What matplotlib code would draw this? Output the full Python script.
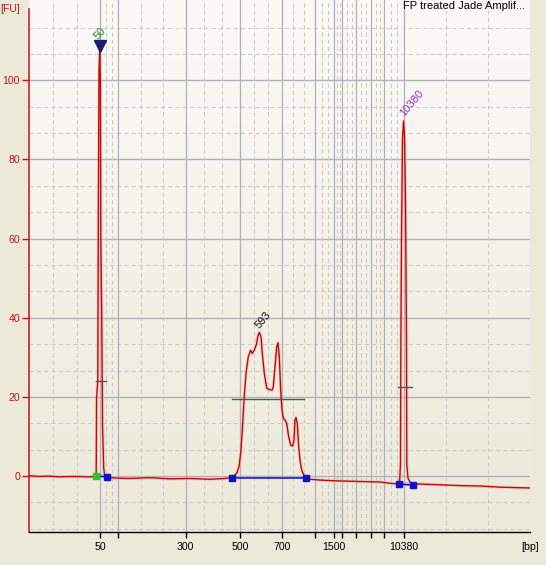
import numpy as np
import matplotlib
matplotlib.use("Agg")
import matplotlib.pyplot as plt
from matplotlib.colors import to_rgb

plt.rcParams['font.family'] = ['Liberation Sans', 'DejaVu Sans']

# ---------------- data ----------------
# migration time (s) of ladder peaks and their sizes (bp)
ladder_time = [27.10, 28.90, 35.64, 41.10, 45.30, 48.60, 50.50, 51.30, 52.70, 54.20, 55.50, 57.42]
ladder_bp = [50, 100, 300, 500, 700, 1000, 1500, 2000, 3000, 5000, 7000, 10380]
tick_labels = ['50', '', '300', '500', '700', '', '1500', '', '', '', '', '10380']

# electropherogram trace: time (s), fluorescence (FU)
trace_time = [20.00, 21.00, 22.00, 23.00, 24.00, 25.00, 26.00, 26.50, 26.62,
              26.69, 26.73, 26.85, 26.90, 26.97, 27.04, 27.11, 27.15, 27.24, 27.33, 27.44, 27.54,
              27.72, 28.57, 30.07, 32.07, 34.07, 36.07, 38.07, 39.57,
              40.30, 40.74, 40.97, 41.14, 41.30, 41.47, 41.67, 41.90, 42.14, 42.30, 42.50,
              42.74, 42.84, 43.00, 43.17, 43.30, 43.50, 43.74, 44.00, 44.27, 44.40, 44.57,
              44.74, 44.87, 45.00, 45.14, 45.27, 45.40, 45.57, 45.74, 45.94, 46.14, 46.34,
              46.47, 46.57, 46.67, 46.80, 46.94, 47.07, 47.24, 47.47, 47.67,
              48.07, 49.07, 50.57, 52.07, 53.57, 55.07, 56.07, 56.90,
              57.02, 57.12, 57.15, 57.22, 57.32, 57.42, 57.52, 57.62, 57.72, 57.75, 57.87,
              58.07, 58.30, 59.07, 61.07, 63.07, 65.07, 67.07, 68.57, 70.07]
trace_fu = [0.1, -0.1, 0.0, -0.2, -0.1, -0.1, -0.2, -0.1, 0.2,
            0.5, 20.0, 24.0, 62.0, 102.0, 107.7, 100.0, 60.0, 42.0, 12.0, 2.0, 0.0,
            -0.2, -0.5, -0.6, -0.4, -0.7, -0.6, -0.8, -0.6,
            -0.3, 0.7, 2.4, 5.7, 11.6, 19.2, 26.0, 30.2, 31.8, 31.0, 31.8,
            33.5, 35.2, 36.3, 35.2, 31.0, 26.0, 22.2, 21.9, 21.7, 22.6, 27.6,
            32.7, 33.7, 30.1, 21.7, 16.7, 14.6, 14.2, 13.3, 9.9, 7.8, 7.6,
            9.1, 14.2, 14.8, 13.3, 7.4, 4.0, 1.5, 0.2, -0.3,
            -0.8, -1.0, -1.2, -1.3, -1.4, -1.5, -1.8, -2.0,
            -1.8, 3.0, 30.0, 60.0, 85.0, 89.7, 86.0, 70.0, 35.0, 3.0, -0.5,
            -1.5, -2.2, -2.0, -2.2, -2.4, -2.5, -2.8, -2.9, -3.0]

# peak start/end markers (time, FU)
start_marker = (26.71, 0.0)
end_time = [27.73, 40.30, 47.65, 56.93, 58.32]
end_fu = [-0.2, -0.5, -0.5, -2.0, -2.3]
# baselines between markers
base_segments = [((26.71, 27.73), (0.0, -0.2)),
                 ((40.30, 47.65), (-0.5, -0.5)),
                 ((56.93, 58.32), (-2.0, -2.3))]
# height lines
height_segments = [((26.67, 27.70), 24.0), ((40.30, 47.50), 19.6), ((56.87, 58.24), 22.4)]

# peak annotations
peak_labels = ['50', '593', '10380']
peak_label_time = [27.12, 43.42, 58.27]
peak_label_fu = [111.8, 39.4, 94.1]
peak_label_colors = ['#238B23', '#111111', '#9A32CD']
marker_peak = (27.07, 108.8)

# ---------------- figure ----------------
W, H = 546, 565
fig = plt.figure(figsize=(W / 100, H / 100), dpi=100)
fig.patch.set_facecolor('#ECE9D8')
x0, x1 = 29.3, 530.0
ytop, ybot = 0.0, 531.5
ax = fig.add_axes([x0 / W, 1 - ybot / H, (x1 - x0) / W, (ybot - ytop) / H])
ax.set_facecolor('none')

xmin, xmax = 20.0, 70.07
ymin, ymax = -14.0, 120.3

# gradient background
c_top = np.array(to_rgb('#FBFAF8'))
c_bot = np.array(to_rgb('#ECE9D9'))
g = np.linspace(0, 1, 256)[:, None]
img = c_top[None, None, :] * (1 - g[:, :, None]) + c_bot[None, None, :] * g[:, :, None]
ax.imshow(img, extent=[0, 1, 0, 1], transform=ax.transAxes, aspect='auto', zorder=0)

# grid
grid_solid = '#ADB1BB'
grid_dash = '#CACACA'
for v in range(0, 101, 20):
    ax.axhline(v, color=grid_solid, lw=1.0, zorder=1)
for k in range(-2, 18):
    v = k * 20 / 3
    if k % 3 != 0:
        ax.axhline(v, color=grid_dash, lw=0.75, ls=(0, (4, 3)), zorder=1)
bounds = [xmin] + ladder_time + [xmax]
for t in ladder_time:
    ax.axvline(t, color=grid_solid, lw=0.9, zorder=1)
for a, b in zip(bounds[:-1], bounds[1:]):
    for f in (1 / 3, 2 / 3):
        ax.axvline(a + (b - a) * f, color=grid_dash, lw=0.75, ls=(0, (4, 3)), zorder=1)
ax.axvline(xmax, color=grid_dash, lw=0.75, ls=(0, (4, 3)), zorder=1)

# trace
ax.plot(trace_time, trace_fu, color='#F4B0A8', lw=2.4, alpha=0.45, zorder=3)
ax.plot(trace_time, trace_fu, color='#C40808', lw=1.0, zorder=4)

# baselines
for (ts, fs) in base_segments:
    ax.plot(ts, [f + 0.35 for f in fs], color='#A8A8F0', lw=1.6, alpha=0.7, zorder=5)
    ax.plot(ts, fs, color='#1010B0', lw=1.1, zorder=6)

# height lines
for (ts, f) in height_segments:
    ax.plot(ts, [f, f], color='#2F6B50', lw=1.0, zorder=6)

# markers
ax.plot(*start_marker, marker='s', ms=4.3, color='#22CC22', mec='#22CC22', zorder=7, ls='none')
ax.plot(end_time, end_fu, marker='s', ms=4.3, color='#1010D0', mec='#1010D0', zorder=7, ls='none')
ax.plot(*marker_peak, marker='v', ms=8, color='#1C1C70', zorder=7, ls='none')

for lab, t, f, c in zip(peak_labels, peak_label_time, peak_label_fu, peak_label_colors):
    ax.text(t, f, lab, rotation=50, ha='center', va='center', color=c, fontsize=8, zorder=8)

ax.set_xlim(xmin, xmax)
ax.set_ylim(ymin, ymax)

# axes styling
for s in ('top', 'right'):
    ax.spines[s].set_visible(False)
ax.spines['left'].set_color('#CC1010')
ax.spines['left'].set_linewidth(1.1)
ax.spines['left'].set_bounds(ymin, 117.9)
ax.spines['bottom'].set_color('black')
ax.spines['bottom'].set_linewidth(1.0)
ax.spines['left'].set_zorder(9)
ax.spines['bottom'].set_zorder(9)

ax.set_yticks(range(0, 101, 20))
ax.set_yticklabels([str(v) for v in range(0, 101, 20)])
ax.tick_params(axis='y', colors='#CC1010', labelcolor='#CC1010', length=4.7, width=1.0,
               pad=2.0, labelsize=7.6, direction='out')
ax.set_xticks(ladder_time)
ax.set_xticklabels(tick_labels)
ax.tick_params(axis='x', colors='black', length=4.3, width=1.0, pad=3.0, labelsize=7.6,
               direction='out')

fig.text(0.0, 1 - 9.5 / H, '[FU]', color='#CC1010', ha='left', va='center', fontsize=7.6)
fig.text(530.5 / W, 1 - 547 / H, '[bp]', color='black', ha='center', va='center', fontsize=7.6)
fig.text(525 / W, 1 - 6 / H, 'FP treated Jade Amplif...', color='black', ha='right',
         va='center', fontsize=8)

fig.savefig('out.png', dpi=100, facecolor=fig.get_facecolor())
